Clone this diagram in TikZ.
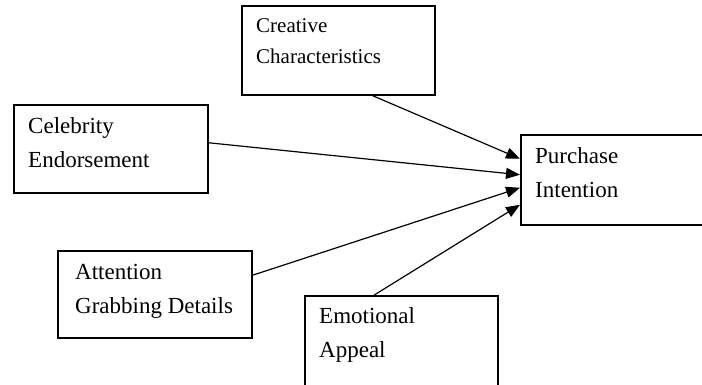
\documentclass[tikz,border=0pt]{standalone}
\usepackage{fontspec}
\setmainfont{Liberation Serif}
\usetikzlibrary{arrows.meta}

\tikzset{
  box/.style = {draw, line width=1.5pt, anchor=north west, inner sep=0pt,
                minimum width=194pt, minimum height=88pt},
  txt/.style = {anchor=base west, inner sep=0pt, align=left,
                font=\fontsize{23}{34}\selectfont},
  link/.style = {line width=1.2pt, -{Triangle[length=14pt, width=11pt]}}
}

\begin{document}
\begin{tikzpicture}[x = 1pt, y = -1pt]
	\useasboundingbox (0, 0) rectangle (702, 384);
	\clip (0, 0) rectangle (702, 384);
	% Boxes
	\node[box, minimum width=193pt, minimum height=89pt] (cre) at (241, 5) {};
	\node[box] (cel) at (13, 104) {};
	\node[box, minimum height=90pt] (pur) at (520, 134) {};
	\node[box, minimum height=87pt] (att) at (57, 250) {};
	\node[box, minimum width=193pt, minimum height=90pt] (emo) at (304, 295) {};

	% Texts (base = baseline of the second line)
	\node[txt, font=\fontsize{21}{31}\selectfont] (creText) at ([shift={(15pt, -58pt)}]cre.north west) {Creative\\Characteristics};
	\node[txt] (celText) at ([shift={(15pt, -63pt)}]cel.north west) {Celebrity\\Endorsement};
	\node[txt] (purText) at ([shift={(15pt, -63pt)}]pur.north west) {Purchase\\Intention};
	\node[txt] (attText) at ([shift={(18pt, -63pt)}]att.north west) {Attention\\Grabbing Details};
	\node[txt] (emoText) at ([shift={(15pt, -62pt)}]emo.north west) {Emotional\\Appeal};

	% Arrows
	\draw[link] ([xshift=34pt]cre.south) -- ([yshift=21pt]pur.west);
	\draw[link] ([yshift=6pt]cel.east) -- ([yshift=5pt]pur.west);
	\draw[link] ([yshift=19pt]att.east) -- ([yshift=-8pt]pur.west);
	\draw[link] ([xshift=-27pt]emo.north) -- ([yshift=-25pt]pur.west);
\end{tikzpicture}
\end{document}
